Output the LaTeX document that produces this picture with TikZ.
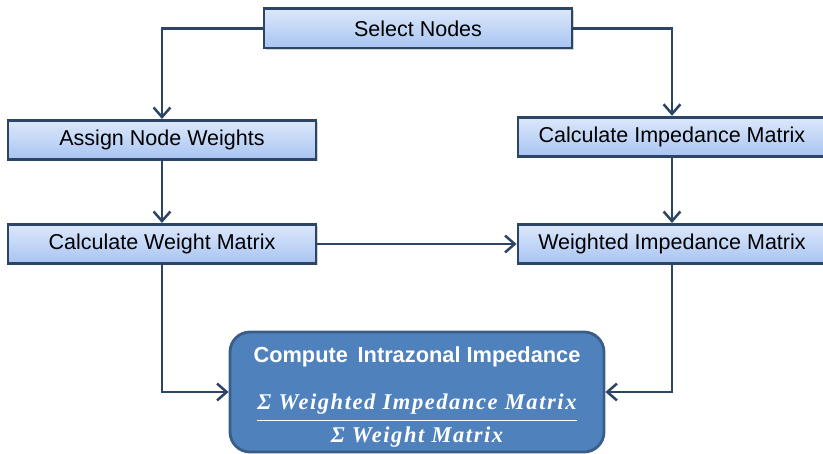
\documentclass[tikz,border=0pt]{standalone}
\usepackage{amsmath,amssymb}
\usepackage{fontspec}
\setmainfont{Liberation Sans}
\newfontfamily\fracfont[LetterSpace=7]{Liberation Serif}
\usepackage{tikz}
\usetikzlibrary{positioning,arrows.meta,shadows}
\definecolor{boxtop}{HTML}{DCE8FB}
\definecolor{boxbot}{HTML}{A8C4F2}
\definecolor{edgeblue}{HTML}{2C4566}
\definecolor{compfill}{HTML}{4F81BD}
\definecolor{compline}{HTML}{3A5D88}
\tikzset{
  stepbox/.style={rectangle, draw=edgeblue, line width=2pt, top color=boxtop,
                  bottom color=boxbot, minimum width=7.7cm, minimum height=0.98cm,
                  inner sep=0pt, font=\fontsize{15.3}{18}\selectfont,
                  drop shadow={shadow xshift=1.2pt, shadow yshift=-1.2pt, opacity=0.35}},
  result/.style={rectangle, rounded corners=0.5cm, draw=compline, line width=2pt,
                 fill=compfill, minimum width=9.35cm, minimum height=3cm, inner sep=0pt},
  restext/.style={text=white, inner sep=0pt},
  flow/.style={line width=2pt, draw=edgeblue,
               -{Straight Barb[length=2.4mm, width=4.2mm, line width=1.8pt]}},
}

\begin{document}
\begin{tikzpicture}
  \clip (0,0) rectangle (20.575,-11.35);
  \node[stepbox] (sel) at (10.45,-0.71) {Select Nodes};
  \node[stepbox] (assign) at (4.05,-3.5) {Assign Node Weights};
  \node[stepbox] (cim) at (16.8,-3.42) {Calculate Impedance Matrix};
  \node[stepbox] (cwm) at (4.05,-6.1) {Calculate Weight Matrix};
  \node[stepbox] (wim) at (16.8,-6.1) {Weighted Impedance Matrix};
  \node[result] (comp) at (10.425,-9.8) {};
  \node[restext, font=\fontsize{15.5}{18}\selectfont\bfseries]
    (comptitle) at ([yshift=-0.65cm]comp.north) {Compute\, Intrazonal Impedance};
  \node[restext, font=\fontsize{16}{19}\selectfont\fracfont\bfseries\itshape]
    (compfrac) at ([yshift=-0.72cm]comp.center)
    {$\displaystyle\frac{\text{Σ Weighted Impedance Matrix}}{\text{Σ Weight Matrix}}$};
  \draw[flow] (sel.west) -| (assign.north);
  \draw[flow] (sel.east) -| (cim.north);
  \draw[flow] (assign) -- (cwm);
  \draw[flow] (cim) -- (wim);
  \draw[flow] (cwm) -- (wim);
  \draw[flow] (cwm.south) |- (comp.west);
  \draw[flow] (wim.south) |- (comp.east);
\end{tikzpicture}
\end{document}
